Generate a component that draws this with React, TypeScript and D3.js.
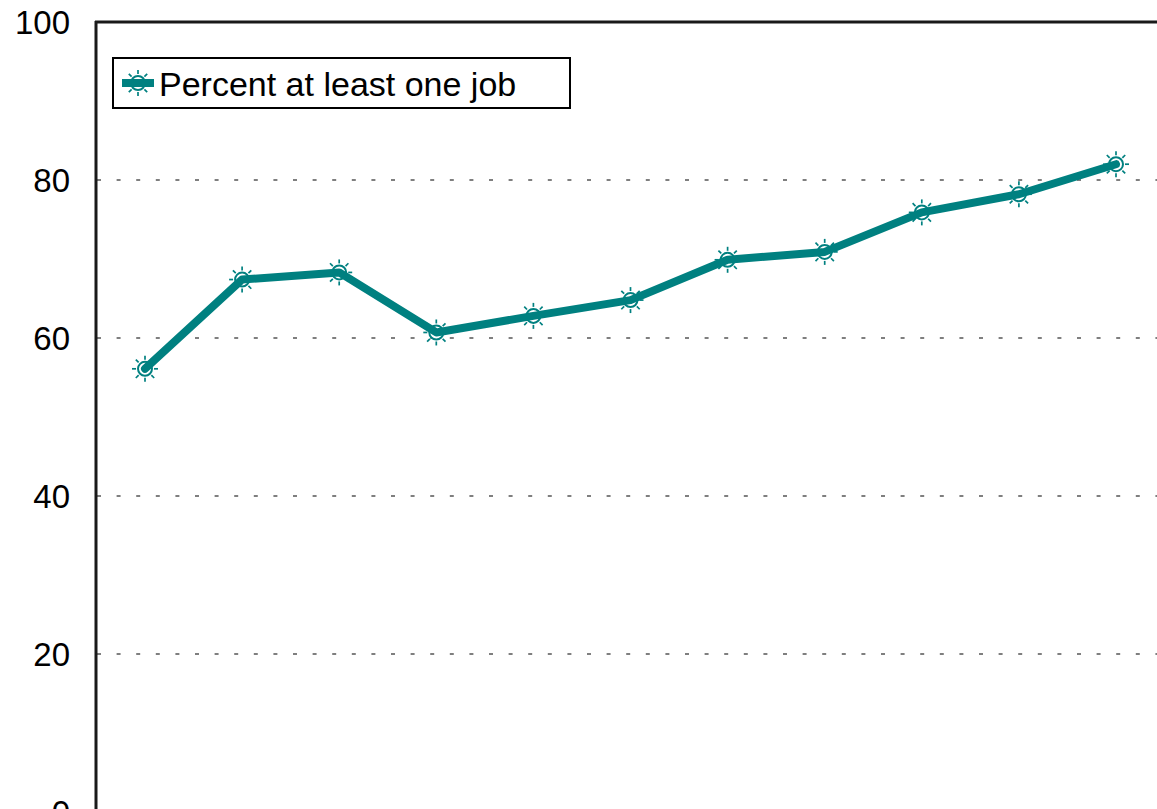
import React from "react";
import * as d3 from "d3";

const categories = ["1", "2", "3", "4", "5", "6", "7", "8", "9", "10", "11"];
const values = [56.1, 67.4, 68.3, 60.7, 62.8, 64.8, 69.9, 70.9, 75.9, 78.2, 82.0];
const yTicks = [0, 20, 40, 60, 80, 100];
const seriesName = "Percent at least one job";

const W = 1157;
const H = 809;
const TEAL = "#008080";
const FONT = "'Liberation Sans', Arial, sans-serif";

function Marker({ x, y }: { x: number; y: number }) {
  const spokes = d3.range(8).map((i) => (i * Math.PI) / 4);
  return (
    <g>
      <circle cx={x} cy={y} r={7} fill="#fff" stroke={TEAL} strokeWidth={2} />
      {spokes.map((a, i) => (
        <line
          key={i}
          x1={x + Math.cos(a) * 9}
          y1={y + Math.sin(a) * 9}
          x2={x + Math.cos(a) * 13}
          y2={y + Math.sin(a) * 13}
          stroke={TEAL}
          strokeWidth={1.7}
        />
      ))}
    </g>
  );
}

export default function App() {
  const x = d3.scalePoint<string>().domain(categories).range([145, 1116]);
  const y = d3.scaleLinear().domain([0, 100]).range([812, 22]);
  const line = d3
    .line<number>()
    .x((_, i) => x(categories[i]) as number)
    .y((d) => y(d));

  return (
    <svg
      width={W}
      height={H}
      style={{ position: "absolute", left: 0, top: 0, background: "#fff" }}
      fontFamily={FONT}
    >
      <rect x={0} y={0} width={W} height={H} fill="#fff" />
      {yTicks
        .filter((t) => t > 0 && t < 100)
        .map((t) => (
          <line
            key={t}
            x1={97}
            x2={W}
            y1={y(t)}
            y2={y(t)}
            stroke="#555"
            strokeWidth={1.3}
            strokeDasharray="4 15.6"
          />
        ))}
      {/* frame */}
      <line x1={96} x2={96} y1={21} y2={H} stroke="#1a1a1a" strokeWidth={3} />
      <line x1={95} x2={W} y1={22} y2={22} stroke="#1a1a1a" strokeWidth={3} />
      {yTicks.map((t) => (
        <text
          key={t}
          x={70}
          y={y(t)}
          textAnchor="end"
          dominantBaseline="central"
          fontSize={33}
          fill="#000"
        >
          {t}
        </text>
      ))}
      {values.map((v, i) => (
        <Marker key={i} x={x(categories[i]) as number} y={y(v)} />
      ))}
      <path
        d={line(values) || ""}
        fill="none"
        stroke={TEAL}
        strokeWidth={8}
        strokeLinejoin="round"
        strokeLinecap="round"
      />
      {/* legend */}
      <rect x={113} y={58} width={457} height={50} fill="#fff" stroke="#000" strokeWidth={2} />
      <Marker x={138} y={83} />
      <line x1={122} x2={154} y1={83} y2={83} stroke={TEAL} strokeWidth={8} />
      <text x={159} y={84} dominantBaseline="central" fontSize={34} fill="#000">
        {seriesName}
      </text>
    </svg>
  );
}
